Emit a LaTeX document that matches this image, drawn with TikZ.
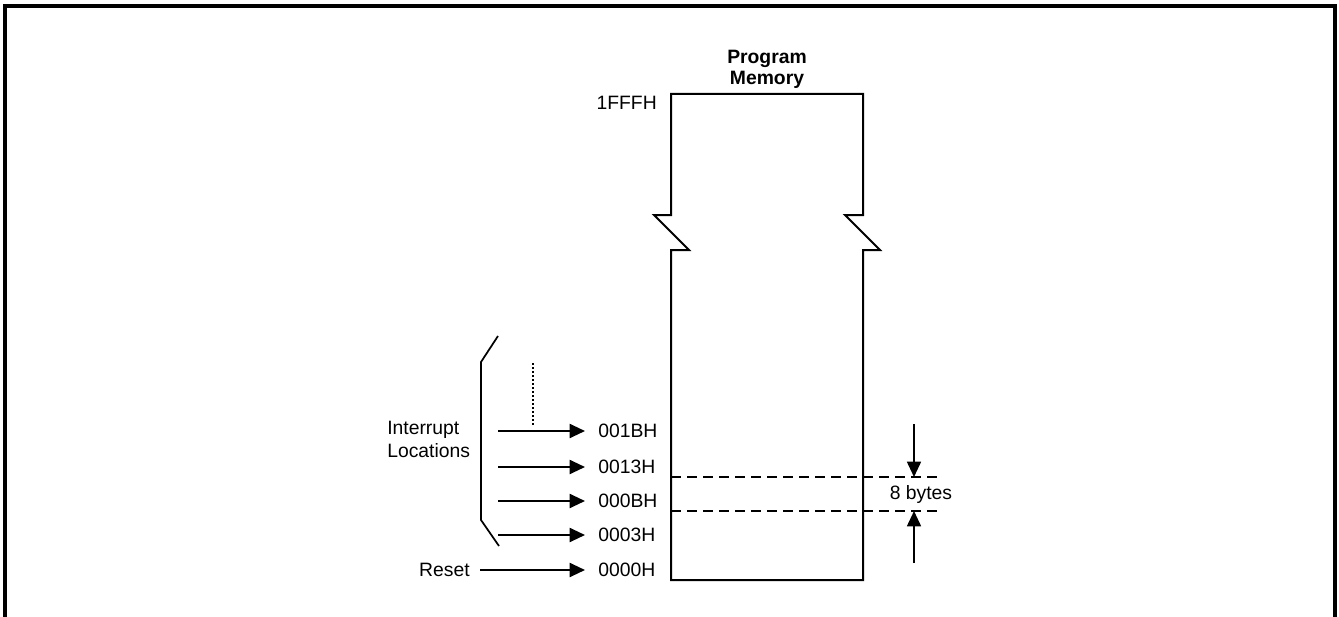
\documentclass[tikz,border=0pt]{standalone}
\usepackage{fontspec}
\setmainfont{Liberation Sans}
\usetikzlibrary{arrows.meta}
\begin{document}
\begin{tikzpicture}[x=0.75pt,y=-0.75pt,
  lbl/.style={inner sep=0pt,font=\fontsize{14.5}{17}\selectfont},
  addr/.style={lbl,anchor=west},
  ptr/.style={line width=1.5pt,-{Triangle[length=11.5pt,width=10.5pt]}},
  dimarrow/.style={line width=1.3pt,-{Triangle[length=11.5pt,width=10.5pt]}},
  memline/.style={line width=1.5pt,line join=miter},
  frameline/.style={line width=2.3pt},
  sepline/.style={line width=1.3pt,dash pattern=on 7.5pt off 4.5pt}]
\useasboundingbox (0,0) rectangle (1339,617);
% outer frame (bottom edge cut off)
\draw[frameline] (5,620) -- (5,6) -- (1335,6) -- (1335,620);
% program memory block with break marks
\draw[memline] (671,94) -- (863,94) -- (863,215) -- (845,215) -- (880,250) -- (863,250)
  -- (863,580) -- (671,580) -- (671,250) -- (689,250) -- (654,215) -- (671,215) -- cycle;
\node[lbl,anchor=north,font=\fontsize{14.5}{15.75}\selectfont\bfseries,align=center] (title) at (767,50) {Program\\Memory};
\node[lbl,anchor=east] (top) at (657,103) {1FFFH};
% address labels
\node[addr] (a1b) at (598,431) {001BH};
\node[addr] (a13) at (598,467) {0013H};
\node[addr] (a0b) at (598,501) {000BH};
\node[addr] (a03) at (598,535) {0003H};
\node[addr] (a00) at (598,570) {0000H};
% arrow starts
\coordinate (s1b) at (498,431);
\coordinate (s13) at (498,467);
\coordinate (s0b) at (498,501);
\coordinate (s03) at (498,535);
\coordinate (s00) at (480,570);
\draw[ptr] (s1b) -- ([xshift=-9.75pt]a1b.west);
\draw[ptr] (s13) -- ([xshift=-9.75pt]a13.west);
\draw[ptr] (s0b) -- ([xshift=-9.75pt]a0b.west);
\draw[ptr] (s03) -- ([xshift=-9.75pt]a03.west);
\draw[ptr] (s00) -- ([xshift=-9.75pt]a00.west);
% side labels
\node[lbl,anchor=north west,align=left] (intr) at (387,421) {Interrupt\\Locations};
\node[lbl,anchor=east] (reset) at (470,570) {Reset};
% bracket
\coordinate (bt) at (498,336);
\coordinate (bb) at (499,546);
\draw[line width=1.3pt] (bt) -- (481,362) -- (481,520) -- (bb);
% dotted continuation
\coordinate (dtop) at (533,363);
\coordinate (dbot) at (533,425);
\draw[line width=1.3pt,dash pattern=on 1.5pt off 1.5pt] (dtop) -- (dbot);
% 8 byte separators
\coordinate (d1l) at (671,477);
\coordinate (d1r) at (938,477);
\coordinate (d2l) at (671,511);
\coordinate (d2r) at (938,511);
\draw[sepline] (d1l) -- (d1r);
\draw[sepline] (d2l) -- (d2r);
\coordinate (u1) at (914,424);
\coordinate (u2) at (914,477);
\coordinate (v1) at (914,563);
\coordinate (v2) at (914,511);
\draw[dimarrow] (u1) -- (u2);
\draw[dimarrow] (v1) -- (v2);
\node[lbl] (bytes) at (921,494) {8 bytes};
\end{tikzpicture}
\end{document}
